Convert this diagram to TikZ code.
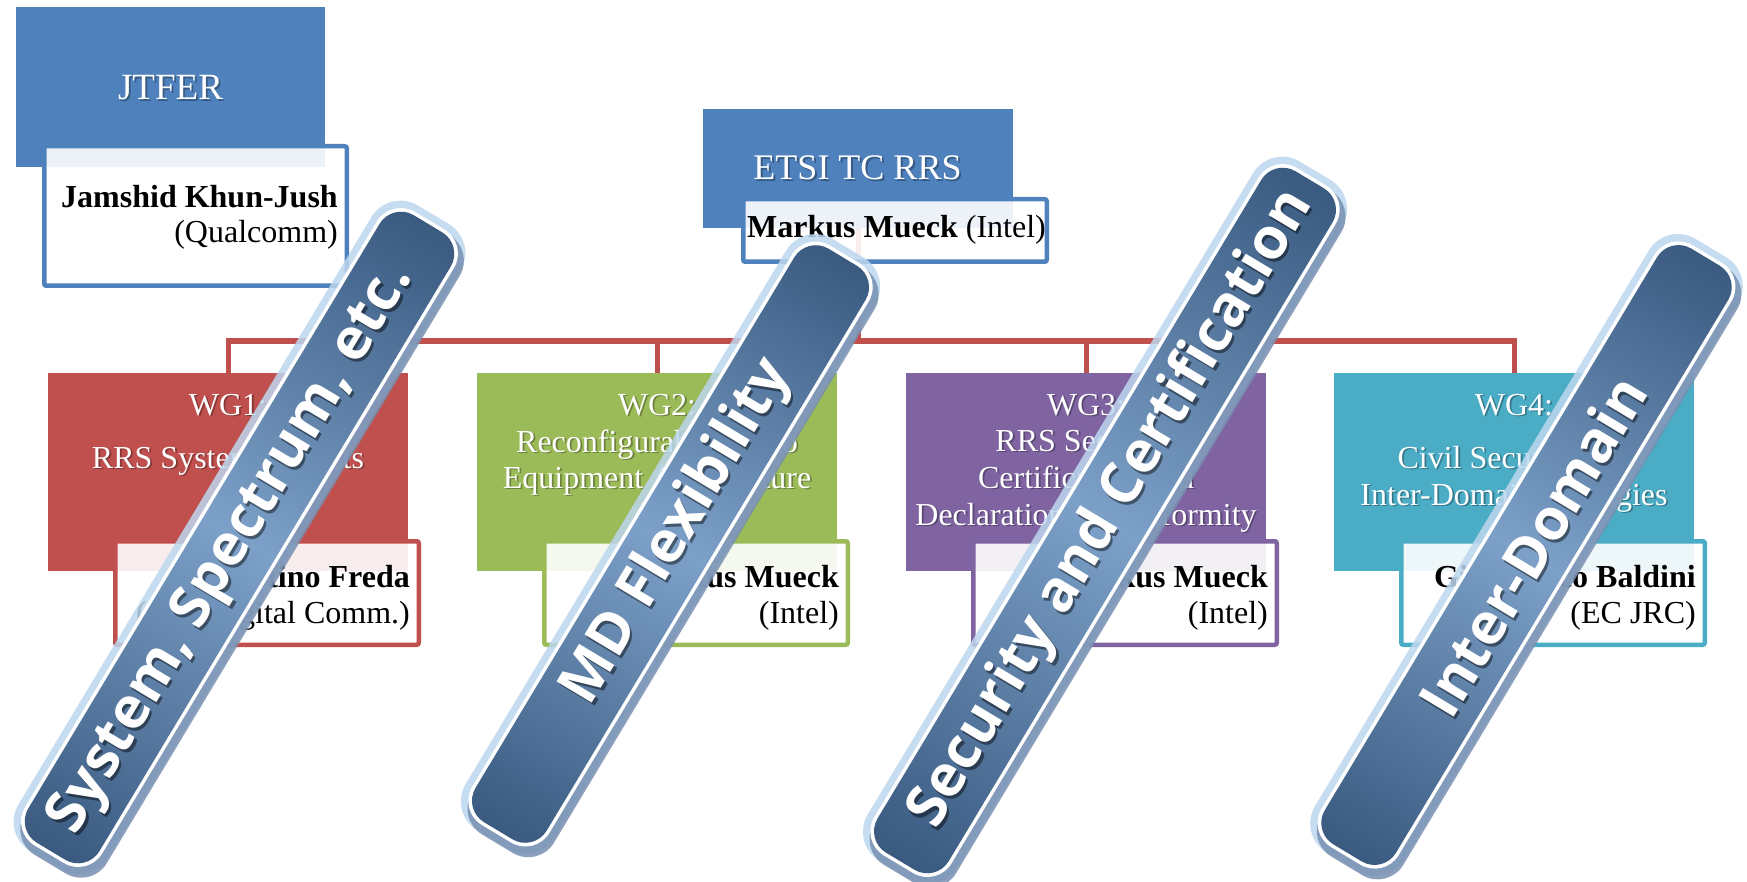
\documentclass[tikz,border=0pt]{standalone}
\usepackage{fontspec}
\setmainfont{Liberation Serif}
\newfontfamily\bannerfont{Open Sans}
\usetikzlibrary{calc}
\definecolor{acblue}{HTML}{4F81BD}
\definecolor{acred}{HTML}{C0504D}
\definecolor{acgreen}{HTML}{9BBB59}
\definecolor{acpurple}{HTML}{8064A2}
\definecolor{acaqua}{HTML}{4BACC6}
\definecolor{bdark}{RGB}{58,90,128}
\definecolor{blight}{RGB}{124,160,200}
\definecolor{bglow}{RGB}{189,215,238}
\definecolor{bshadow}{RGB}{120,144,178}
\tikzset{
  colbox/.style={draw=none, fill=#1, inner sep=0pt},
  wgbox/.style={colbox=#1, minimum width=360pt, minimum height=198pt},
  namebox/.style={draw=#1, line width=4.5pt, fill=white, fill opacity=0.9, rounded corners=2pt, inner sep=0pt},
  wgname/.style={namebox=#1, minimum width=303.5pt, minimum height=103.5pt},
  conn/.style={draw=acred, line width=5pt},
  titletext/.style={font=\fontsize{37}{40}\selectfont, anchor=base, inner sep=0pt},
  etsitext/.style={font=\fontsize{36}{40}\selectfont, anchor=base, inner sep=0pt},
  wgtext/.style={font=\fontsize{32}{37}\selectfont, anchor=base, inner sep=0pt},
  nametext/.style={font=\fontsize{32}{36}\selectfont, anchor=base east, inner sep=0pt, text=black},
  bannertext/.style={font=\bannerfont\bfseries\fontsize{57.5}{60}\selectfont, inner sep=0pt, anchor=center},
}
\newcommand\wtext[4]{%
  \node[#3, text=black, opacity=0.3] (#1s) at ($#2+(1.8,1.8)$) {#4};
  \node[#3, text=white] (#1) at #2 {#4};}
% #1 cx, #2 cy, #3 length, #4 text offset along banner, #5 text, #6 name
\newcommand\drawbanner[6]{%
  \begin{scope}[transform canvas={shift={(#1,#2)},rotate=59}]
    \fill[bglow, opacity=0.85, rounded corners=34pt] ({-#3/2-7},-52) rectangle ({#3/2+7},52);
    \fill[bshadow, opacity=0.85, rounded corners=30pt] ({-#3/2-8},-42) rectangle ({#3/2-2},54);
    \fill[white, rounded corners=28pt] ({-#3/2},-45) rectangle ({#3/2},45);
    \shade[left color=bdark, right color=bdark, middle color=blight, rounded corners=25pt] ({-#3/2+3.5},-41.5) rectangle ({#3/2-3.5},41.5);
    \node[bannertext, text=black, opacity=0.45] (#6s) at ({#4-1.5},3.5) {#5};
    \node[bannertext, text=white] (#6) at (#4,0) {#5};
  \end{scope}}
\begin{document}
\begin{tikzpicture}[x=1pt, y=-1pt]
\path[use as bounding box, fill=white] (0,0) rectangle (1747,882);

% top boxes
\node[colbox=acblue, minimum width=309pt, minimum height=160pt] (jtfer) at (170.5,87) {};
\node[colbox=acblue, minimum width=310pt, minimum height=119pt] (etsi) at (858,168.5) {};
\wtext{jtfert}{(170.5,100)}{titletext}{JTFER}
\wtext{etsit}{(857.5,180)}{etsitext}{ETSI TC RRS}

% WG boxes
\node[wgbox=acred] (wg1) at (228,472) {};
\node[wgbox=acgreen] (wg2) at (657,472) {};
\node[wgbox=acpurple] (wg3) at (1086,472) {};
\node[wgbox=acaqua] (wg4) at (1514,472) {};

% connectors
\coordinate (bus) at (858,341);
\draw[conn] (etsi.south) -- (bus);
\draw[conn] (wg1.north) -- (wg1.north |- bus) -- (wg4.north |- bus) -- (wg4.north);
\draw[conn] (wg2.north) -- (wg2.north |- bus);
\draw[conn] (wg3.north) -- (wg3.north |- bus);

% name boxes
\node[namebox=acblue, minimum width=302.5pt, minimum height=139.5pt] (jtfern) at (195.5,216) {};
\node[namebox=acblue, minimum width=303.5pt, minimum height=62.5pt] (etsin) at (895,230.5) {};
\node[wgname=acred] (wg1n) at (267,593) {};
\node[wgname=acgreen] (wg2n) at (696,593) {};
\node[wgname=acpurple] (wg3n) at (1125,593) {};
\node[wgname=acaqua] (wg4n) at (1553,593) {};

% WG texts
\wtext{wg1a}{(228,415)}{wgtext}{WG1:}
\wtext{wg1b}{(228,468)}{wgtext}{RRS System Aspects}
\wtext{wg2a}{(657,415)}{wgtext}{WG2:}
\wtext{wg2b}{(657,452)}{wgtext}{Reconfigurable Radio}
\wtext{wg2c}{(657,488)}{wgtext}{Equipment Architecture}
\wtext{wg3a}{(1086,415)}{wgtext}{WG3:}
\wtext{wg3b}{(1086,451)}{wgtext}{RRS Security,}
\wtext{wg3c}{(1086,488)}{wgtext}{Certification and}
\wtext{wg3d}{(1086,525)}{wgtext}{Declaration of Conformity}
\wtext{wg4a}{(1514,415)}{wgtext}{WG4:}
\wtext{wg4b}{(1514,468)}{wgtext}{Civil Security and}
\wtext{wg4c}{(1514,505)}{wgtext}{Inter-Domain Synergies}

% name texts
\node[nametext] (jn1) at (338,208) {\textbf{Jamshid Khun-Jush}};
\node[nametext] (jn2) at (338,243) {(Qualcomm)};
\node[nametext] (en1) at (1046,238) {\textbf{Markus Mueck} (Intel)};
\node[nametext] (w1n1) at (410,587) {\textbf{Martino Freda}};
\node[nametext] (w1n2) at (410,623) {(InterDigital Comm.)};
\node[nametext] (w2n1) at (839,587) {\textbf{Markus Mueck}};
\node[nametext] (w2n2) at (839,623) {(Intel)};
\node[nametext] (w3n1) at (1268,587) {\textbf{Markus Mueck}};
\node[nametext] (w3n2) at (1268,623) {(Intel)};
\node[nametext] (w4n1) at (1696,587) {\textbf{Gianmarco Baldini}};
\node[nametext] (w4n2) at (1696,623) {(EC JRC)};

% banners
\drawbanner{239.5}{537.5}{739}{-14}{System, Spectrum, etc.}{b1}
\drawbanner{670.5}{544}{676}{14}{MD Flexibility}{b2}
\drawbanner{1105}{520.5}{802}{13}{Security and Certification}{b3}
\drawbanner{1526.5}{555}{702}{11}{Inter-Domain}{b4}
\end{tikzpicture}
\end{document}
